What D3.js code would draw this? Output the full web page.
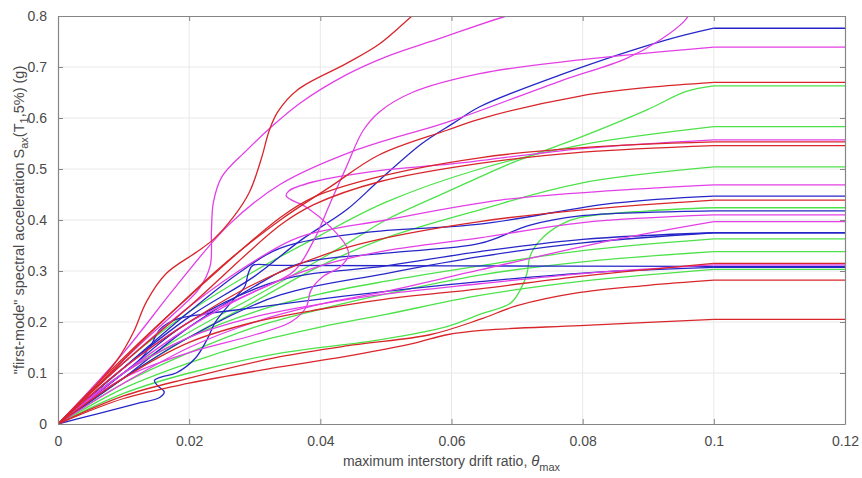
<!DOCTYPE html>
<html><head><meta charset="utf-8">
<script src="https://cdn.jsdelivr.net/npm/d3@7"></script>
<style>body{margin:0;background:#fff}svg{display:block}text{font-family:"Liberation Sans",Arial,sans-serif}</style>
</head><body><svg id="c" width="862" height="478"></svg>
<script>
// axis ticks
const xTicks = [0, 0.02, 0.04, 0.06, 0.08, 0.1, 0.12];
const xTickLabels = ["0", "0.02", "0.04", "0.06", "0.08", "0.1", "0.12"];
const yTicks = [0, 0.1, 0.2, 0.3, 0.4, 0.5, 0.6, 0.7, 0.8];
const yTickLabels = ["0", "0.1", "0.2", "0.3", "0.4", "0.5", "0.6", "0.7", "0.8"];
const collapseDrift = 0.1;   // curves continue flat from here
const xMaxData = 0.12;

// IDA curves [drift, Sa]
const redA = [[0,0],[0.005,0.065],[0.009,0.125],[0.0115,0.18],[0.0135,0.24],[0.0165,0.295],[0.021,0.336],[0.0237,0.362],[0.0267,0.405],[0.0292,0.455],[0.031,0.52],[0.0322,0.575],[0.0335,0.612],[0.0365,0.655],[0.044,0.707],[0.049,0.745],[0.054,0.8],[0.056,0.82]];
const magA = [[0,0],[0.006,0.075],[0.012,0.15],[0.018,0.22],[0.0215,0.265],[0.0232,0.31],[0.0234,0.38],[0.0237,0.435],[0.025,0.485],[0.0288,0.537],[0.0323,0.58],[0.037,0.63],[0.044,0.685],[0.05,0.72],[0.058,0.755],[0.0684,0.8],[0.072,0.81]];
const magB = [[0,0],[0.01,0.14],[0.018,0.27],[0.026,0.39],[0.0339,0.47],[0.045,0.535],[0.0603,0.596],[0.0765,0.672],[0.0867,0.717],[0.0918,0.753],[0.0955,0.79],[0.097,0.82]];
const blue1 = [[0,0],[0.01,0.11],[0.02,0.21],[0.03,0.29],[0.037,0.36],[0.044,0.42],[0.049,0.478],[0.0555,0.55],[0.0603,0.59],[0.0643,0.622],[0.0765,0.684],[0.0928,0.753],[0.1,0.776]];
const mag3 = [[0,0],[0.01,0.11],[0.02,0.2],[0.03,0.26],[0.036,0.3],[0.039,0.36],[0.0415,0.433],[0.044,0.505],[0.0465,0.575],[0.049,0.612],[0.054,0.65],[0.0643,0.687],[0.0796,0.714],[0.1,0.739]];
const red2 = [[0,0],[0.008,0.1],[0.015,0.19],[0.025,0.31],[0.0339,0.4],[0.0415,0.465],[0.049,0.528],[0.0593,0.576],[0.0643,0.598],[0.0796,0.643],[0.09,0.66],[0.1,0.67]];
const green1 = [[0,0],[0.01,0.1],[0.02,0.18],[0.03,0.25],[0.0369,0.3],[0.045,0.361],[0.05,0.4],[0.0593,0.455],[0.0694,0.513],[0.0796,0.562],[0.0898,0.616],[0.0958,0.652],[0.1,0.663]];
const green2 = [[0,0],[0.01,0.12],[0.02,0.22],[0.03,0.3],[0.04,0.37],[0.05,0.435],[0.0643,0.5],[0.0796,0.547],[0.1,0.583]];
const mag4 = [[0,0],[0.01,0.09],[0.02,0.14],[0.03,0.175],[0.0355,0.2],[0.0378,0.228],[0.0386,0.263],[0.0405,0.29],[0.043,0.308],[0.0443,0.33],[0.044,0.348],[0.0415,0.387],[0.038,0.424],[0.0348,0.447],[0.0352,0.457],[0.039,0.475],[0.049,0.497],[0.06,0.51],[0.08,0.54],[0.1,0.557]];
const red3 = [[0,0],[0.01,0.13],[0.02,0.25],[0.0339,0.405],[0.039,0.445],[0.049,0.485],[0.0643,0.522],[0.08,0.542],[0.1,0.553]];
const red4 = [[0,0],[0.01,0.12],[0.02,0.23],[0.0339,0.39],[0.039,0.43],[0.049,0.475],[0.0643,0.511],[0.08,0.533],[0.1,0.546]];
const green3 = [[0,0],[0.01,0.09],[0.02,0.17],[0.03,0.24],[0.04,0.31],[0.05,0.365],[0.0643,0.42],[0.0796,0.472],[0.1,0.504]];
const mag5 = [[0,0],[0.01,0.12],[0.02,0.23],[0.03,0.32],[0.0369,0.367],[0.05,0.4],[0.0674,0.439],[0.085,0.458],[0.1,0.469]];
const blue2 = [[0,0],[0.01,0.11],[0.02,0.22],[0.028,0.3],[0.0339,0.345],[0.0466,0.375],[0.0643,0.392],[0.0847,0.433],[0.1,0.447]];
const red5 = [[0,0],[0.01,0.11],[0.02,0.2],[0.03,0.275],[0.042,0.338],[0.05,0.365],[0.0643,0.397],[0.08,0.42],[0.1,0.439]];
const green4 = [[0,0],[0.01,0.06],[0.02,0.1],[0.0339,0.139],[0.049,0.165],[0.0593,0.191],[0.0643,0.215],[0.069,0.237],[0.0705,0.263],[0.0715,0.295],[0.072,0.33],[0.0735,0.36],[0.0765,0.39],[0.0796,0.405],[0.09,0.418],[0.1,0.424]];
const blue3 = [[0,0],[0.01,0.09],[0.02,0.19],[0.03,0.27],[0.0369,0.315],[0.05,0.335],[0.0643,0.354],[0.072,0.39],[0.0796,0.408],[0.09,0.415],[0.1,0.418]];
const mag6 = [[0,0],[0.01,0.1],[0.02,0.19],[0.03,0.26],[0.04,0.31],[0.05,0.34],[0.0643,0.365],[0.08,0.395],[0.1,0.41]];
const mag7 = [[0,0],[0.01,0.08],[0.02,0.15],[0.03,0.2],[0.04,0.235],[0.05,0.26],[0.0643,0.302],[0.0847,0.361],[0.1,0.397]];
const blue4 = [[0,0],[0.01,0.1],[0.02,0.2],[0.0339,0.282],[0.05,0.31],[0.0643,0.338],[0.08,0.362],[0.1,0.375]];
const blue5 = [[0,0],[0.01,0.09],[0.02,0.17],[0.0339,0.253],[0.05,0.295],[0.0643,0.328],[0.08,0.355],[0.1,0.375]];
const green5 = [[0,0],[0.01,0.1],[0.02,0.17],[0.03,0.22],[0.04,0.255],[0.05,0.28],[0.0643,0.31],[0.08,0.34],[0.1,0.363]];
const green6 = [[0,0],[0.01,0.08],[0.02,0.14],[0.03,0.19],[0.04,0.225],[0.05,0.255],[0.0643,0.292],[0.08,0.318],[0.1,0.338]];
const red6 = [[0,0],[0.01,0.09],[0.02,0.16],[0.03,0.2],[0.04,0.225],[0.05,0.245],[0.0643,0.265],[0.08,0.29],[0.1,0.315]];
const mag8 = [[0,0],[0.01,0.1],[0.02,0.17],[0.03,0.21],[0.04,0.235],[0.05,0.255],[0.0643,0.275],[0.08,0.295],[0.1,0.312]];
const blue6 = [[0,0],[0.006,0.02],[0.012,0.04],[0.0155,0.052],[0.0162,0.063],[0.0152,0.075],[0.0147,0.085],[0.0157,0.092],[0.018,0.1],[0.021,0.13],[0.0227,0.165],[0.024,0.2],[0.0267,0.243],[0.0285,0.27],[0.029,0.295],[0.0297,0.311],[0.033,0.311],[0.06,0.31],[0.1,0.309]];
const blue7 = [[0,0],[0.01,0.1],[0.012,0.12],[0.014,0.15],[0.0155,0.185],[0.018,0.205],[0.022,0.215],[0.03,0.228],[0.04,0.245],[0.05,0.26],[0.0643,0.279],[0.08,0.296],[0.1,0.307]];
const green7 = [[0,0],[0.01,0.07],[0.02,0.12],[0.03,0.16],[0.04,0.19],[0.05,0.215],[0.0643,0.252],[0.08,0.28],[0.1,0.303]];
const red7 = [[0,0],[0.01,0.055],[0.02,0.09],[0.0339,0.132],[0.045,0.155],[0.0567,0.175],[0.0643,0.205],[0.07,0.232],[0.0796,0.258],[0.09,0.272],[0.1,0.282]];
const red8 = [[0,0],[0.01,0.05],[0.02,0.08],[0.0339,0.112],[0.045,0.135],[0.0542,0.158],[0.0593,0.175],[0.065,0.184],[0.0796,0.193],[0.1,0.205]];

const colors = {red:"#d8262b", magenta:"#e33fe6", green:"#4de24a", blue:"#2626c8"};
const series = [
  {c:"green", d:green1},{c:"green", d:green2},{c:"green", d:green3},{c:"green", d:green4},
  {c:"green", d:green5},{c:"green", d:green6},{c:"green", d:green7},
  {c:"blue", d:blue1},{c:"blue", d:blue2},{c:"blue", d:blue3},{c:"blue", d:blue4},
  {c:"blue", d:blue5},{c:"blue", d:blue6},{c:"blue", d:blue7},
  {c:"magenta", d:magA},{c:"magenta", d:magB},{c:"magenta", d:mag3},{c:"magenta", d:mag4},
  {c:"magenta", d:mag5},{c:"magenta", d:mag6},{c:"magenta", d:mag7},{c:"magenta", d:mag8},
  {c:"red", d:redA},{c:"red", d:red2},{c:"red", d:red3},{c:"red", d:red4},
  {c:"red", d:red5},{c:"red", d:red6},{c:"red", d:red7},{c:"red", d:red8}
];

const W = 862, H = 478;
const m = {l:58, r:17, t:16, b:54};
const svg = d3.select("#c");
const x = d3.scaleLinear().domain([0, 0.12]).range([m.l, W - m.r]);
const y = d3.scaleLinear().domain([0, 0.8]).range([H - m.b, m.t]);

// grid
svg.append("g").selectAll("line").data(xTicks.slice(1, -1)).join("line")
  .attr("x1", d => x(d)).attr("x2", d => x(d)).attr("y1", y(0)).attr("y2", y(0.8))
  .attr("stroke", "#e8e8e8").attr("stroke-width", 1);
svg.append("g").selectAll("line").data(yTicks.slice(1, -1)).join("line")
  .attr("y1", d => y(d)).attr("y2", d => y(d)).attr("x1", x(0)).attr("x2", x(0.12))
  .attr("stroke", "#e8e8e8").attr("stroke-width", 1);

svg.append("clipPath").attr("id", "clip").append("rect")
  .attr("x", x(0)).attr("y", y(0.8)).attr("width", x(0.12) - x(0)).attr("height", y(0) - y(0.8));

const curve = d3.line().x(d => x(d[0])).y(d => y(d[1])).curve(d3.curveCatmullRom.alpha(0.5));
const straight = d3.line().x(d => x(d[0])).y(d => y(d[1]));
const gL = svg.append("g").attr("clip-path", "url(#clip)").attr("fill", "none").attr("stroke-width", 1.3);
series.forEach(s => {
  gL.append("path").attr("d", curve(s.d)).attr("stroke", colors[s.c]);
  const last = s.d[s.d.length - 1];
  if (last[0] >= collapseDrift) {
    gL.append("path").attr("d", straight([last, [xMaxData, last[1]]])).attr("stroke", colors[s.c]);
  }
});

// axes (box with inward ticks)
const axCol = "#858585";
const xb = svg.append("g").attr("transform", `translate(0,${y(0)})`)
  .call(d3.axisBottom(x).tickValues(xTicks).tickFormat((d, i) => xTickLabels[i]).tickSizeInner(-5).tickSizeOuter(0).tickPadding(12));
const xt = svg.append("g").attr("transform", `translate(0,${y(0.8)})`)
  .call(d3.axisTop(x).tickValues(xTicks).tickFormat("").tickSizeInner(-5).tickSizeOuter(0));
const yl = svg.append("g").attr("transform", `translate(${x(0)},0)`)
  .call(d3.axisLeft(y).tickValues(yTicks).tickFormat((d, i) => yTickLabels[i]).tickSizeInner(-5).tickSizeOuter(0).tickPadding(11));
const yr = svg.append("g").attr("transform", `translate(${x(0.12)},0)`)
  .call(d3.axisRight(y).tickValues(yTicks).tickFormat("").tickSizeInner(-5).tickSizeOuter(0));
[xb, xt, yl, yr].forEach(g => {
  g.select(".domain").attr("stroke", axCol).attr("stroke-width", 1.2);
  g.selectAll(".tick line").attr("stroke", axCol);
  g.selectAll("text").attr("fill", "#4a4a4a").style("font-size", "14px").style("font-family", '"Liberation Sans",Arial,sans-serif');
});

// x label
const xlab = svg.append("text").attr("x", (x(0) + x(0.12)) / 2).attr("y", 466)
  .attr("text-anchor", "middle").attr("fill", "#4a4a4a").style("font-size", "14px");
xlab.append("tspan").text("maximum interstory drift ratio, ");
xlab.append("tspan").text("θ").style("font-style", "italic").style("font-size", "15px");
xlab.append("tspan").text("max").attr("dy", 5).style("font-size", "11px");

// y label
const ylab = svg.append("text").attr("transform", `translate(24,${(y(0) + y(0.8)) / 2}) rotate(-90)`)
  .attr("text-anchor", "middle").attr("fill", "#4a4a4a").style("font-size", "14.5px");
ylab.append("tspan").text("\"first-mode\" spectral acceleration S");
ylab.append("tspan").text("ax").attr("dy", 4).style("font-size", "11px");
ylab.append("tspan").text("(T").attr("dy", -4);
ylab.append("tspan").text("1").attr("dy", 4).style("font-size", "11px");
ylab.append("tspan").text(",5%) (g)").attr("dy", -4);
</script></body></html>
